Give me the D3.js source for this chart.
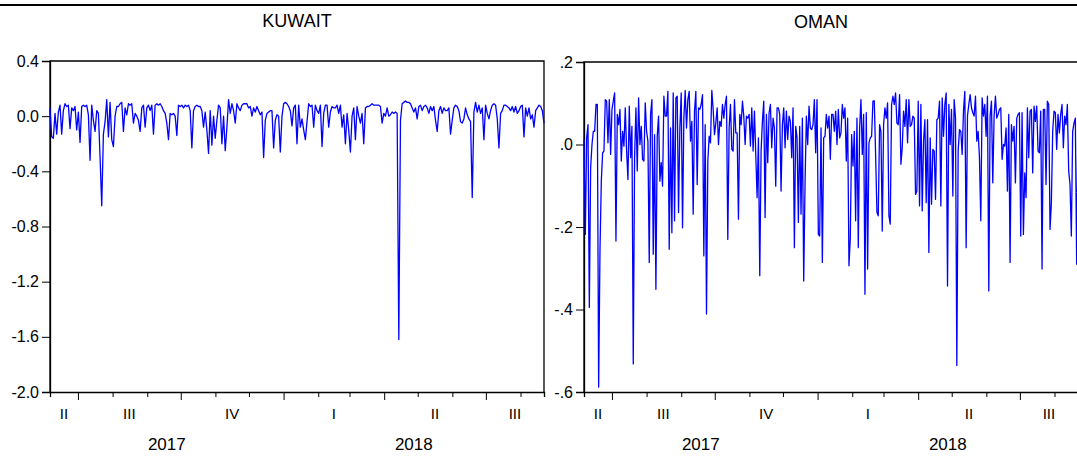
<!DOCTYPE html>
<html>
<head>
<meta charset="utf-8">
<script src="https://cdn.jsdelivr.net/npm/d3@7"></script>
<style>
  body { margin: 0; background: #fff; }
  svg { display: block; }
  text { font-family: "Liberation Sans", Arial, sans-serif; fill: #000; }
</style>
</head>
<body>
<svg id="chart"></svg>
<script>
// daily returns
const kuwait = [
  0.06,-0.15,-0.16,0.02,-0.13,0.03,0.08,-0.13,0.04,0.09,0.07,0.08,-0.09,0.06,0.04,0.07,-0.10,0.03,-0.19,0.07,
  0.08,0.07,0.08,0.01,-0.32,0.08,-0.03,-0.11,0.04,0.02,-0.30,-0.65,-0.13,-0.04,0.12,-0.15,0.10,-0.17,-0.22,0.00,
  0.07,0.07,0.09,0.10,-0.11,0.06,0.01,0.09,0.08,0.09,-0.05,0.02,0.00,-0.03,-0.11,0.06,0.08,-0.08,0.06,0.08,
  0.04,0.08,-0.13,0.08,0.09,0.08,0.09,0.07,0.04,0.02,-0.05,-0.17,0.02,0.01,0.02,0.00,-0.14,0.08,0.07,0.08,
  0.06,0.08,0.07,0.08,0.04,-0.23,0.04,0.07,0.08,0.07,0.07,0.04,-0.08,0.03,-0.10,-0.27,0.04,-0.21,0.00,-0.16,
  -0.03,0.08,0.06,-0.20,0.00,-0.25,-0.08,0.12,0.02,0.09,0.04,-0.05,0.09,0.06,0.04,0.08,0.09,0.09,0.09,0.06,
  0.07,0.00,0.06,0.03,0.07,0.04,0.01,0.03,-0.30,-0.03,0.02,0.03,0.04,0.04,-0.23,-0.03,0.01,0.00,-0.26,0.00,
  0.09,0.10,0.09,0.07,0.04,-0.07,
  0.06,0.08,-0.20,0.08,-0.08,-0.02,-0.10,-0.17,-0.04,0.09,0.07,0.08,-0.08,0.08,0.04,0.02,0.08,-0.22,0.02,
  0.08,0.08,-0.08,0.03,0.07,0.06,0.06,0.08,0.02,0.08,-0.08,0.01,-0.20,0.02,-0.10,-0.26,0.00,0.06,-0.17,0.07,
  0.00,-0.05,0.02,-0.20,0.06,0.07,0.07,0.08,0.09,0.08,0.08,0.08,0.08,0.07,-0.05,0.02,0.00,0.06,0.00,0.01,
  0.03,0.02,0.03,0.02,-1.62,-0.03,0.09,0.10,0.11,0.10,0.10,0.09,0.06,0.03,0.06,-0.02,0.07,0.08,0.04,0.07,
  0.08,0.06,0.02,0.07,0.04,0.07,-0.03,-0.11,0.04,0.07,0.02,0.06,0.04,0.04,0.06,-0.13,-0.03,0.06,0.08,0.07,
  0.04,-0.04,-0.05,-0.02,0.06,0.01,-0.02,-0.04,-0.59,0.03,0.10,0.03,0.08,0.02,0.06,-0.17,0.08,0.02,-0.02,0.04,
  0.08,0.09,0.08,-0.02,-0.23,0.02,0.04,0.08,0.08,0.07,0.06,0.04,0.07,0.03,0.07,0.02,0.04,0.07,0.08,-0.15,
  0.06,0.00,0.06,-0.02,0.01,-0.08,0.04,0.06,0.08,0.07,0.04,-0.05
];

const oman = [
  0.012,-0.218,0.016,0.048,-0.395,-0.056,0,0.032,0.032,0.097,0.097,-0.588,-0.258,-0.089,-0.020,-0.016,0.109,0.105,0.004,0.109,
  -0.024,0.085,0.105,0.125,-0.234,0.073,0.048,0.085,-0.040,0.032,-0.004,0.089,-0.016,-0.085,0.093,-0.032,0.044,-0.532,-0.032,0.089,
  -0.064,0.113,0,0.044,-0.036,-0.040,0.101,0.032,0.008,-0.286,0.073,0.109,-0.266,0.024,-0.351,0.020,0.069,-0.089,-0.044,-0.101,
  0.117,0.069,0.069,0.129,-0.254,0.040,-0.214,0.125,-0.185,0.113,0.117,-0.165,0.040,0.125,-0.202,0.064,0.131,0.040,0.109,0.129,
  0.008,0.056,-0.169,0.081,0.129,-0.097,0.089,0.085,0.097,0.121,-0.270,0.048,-0.411,-0.040,0.020,0.004,0.131,0.085,0.024,0.052,
  0.089,0,0.056,0.044,0.097,0.064,0.097,0.117,-0.230,0.040,0.097,-0.012,-0.016,0.109,0.028,0.028,-0.181,0.073,0.048,0.105,
  0.069,0,0.069,0.064,0.073,-0.004,0.089,-0.016,0.081,-0.024,-0.129,0.016,-0.318,-0.016,0.056,0.105,-0.177,0.073,-0.044,0.077,
  0.097,-0.008,0.064,0.040,-0.101,0.089,0.089,0.073,-0.113,0.048,0.089,-0.008,0.081,0.012,0.069,0.056,-0.032,0.089,-0.250,0.044,
  0.016,-0.189,0.044,-0.169,0.064,-0.331,-0.097,0.069,0,0.093,0.040,0.036,0.048,0.109,-0.020,0.109,-0.218,-0.222,0.040,-0.286,
  0.016,0.020,0.073,0.040,
  0.069,-0.036,0.073,0.073,0.032,0.081,0,0.085,0.016,0.028,0.097,0.064,0.089,-0.040,0.064,-0.294,-0.226,0.024,-0.052,0.032,
  -0.185,0.064,-0.250,0.040,0.109,-0.024,0.073,-0.363,0.077,-0.302,0.004,0.016,0.020,0.105,0.106,-0.024,-0.165,-0.173,0.048,0.032,
  -0.210,0.048,0.089,0.064,0.101,-0.173,-0.193,0.097,0.117,0.097,0.125,0.052,0.048,0.121,-0.048,-0.008,0.081,0.044,0.109,0.004,
  0.109,0.044,0.048,0.069,0.064,-0.121,-0.113,0.105,-0.149,0.097,-0.161,0.008,0.060,-0.141,0.060,-0.262,0.016,-0.145,-0.012,-0.016,
  -0.133,0.060,0.064,0.105,-0.149,0.113,0.020,0.097,0.125,-0.343,0.097,0,0.085,-0.125,0.109,0.064,-0.536,-0.016,0.036,0.032,
  -0.024,0.081,0.129,-0.250,0.069,0.097,0.121,0.089,0.077,0.069,0.117,0.008,0.032,-0.032,-0.185,0.113,0.069,0.097,0.020,0.117,
  -0.355,0.069,0.105,-0.093,0.069,0.117,0.064,0.073,0.085,0.089,-0.036,0,-0.004,0.040,-0.113,0.073,-0.286,0.048,0.008,0.044,
  -0.093,0.064,0.073,0.077,-0.222,0.077,-0.218,-0.069,-0.129,0.089,-0.032,0.081,0.085,-0.069,0.093,0.056,0.093,-0.016,-0.020,0.081,
  -0.302,0.085,0.085,-0.097,0.105,0.097,-0.206,-0.141,0.032,0.081,0.077,-0.012,0.073,0.028,0.073,0.097,-0.008,0.069,0.048,0.097,
  -0.064,-0.097,-0.222,0.032,0.052,0.064,-0.290,0.069
];

// axis ticks
const kuwaitTicks = [0.4, 0.0, -0.4, -0.8, -1.2, -1.6, -2.0];
const omanTicks = [0.2, 0.0, -0.2, -0.4, -0.6];
const quarterNames = ["I", "II", "III", "IV"];

// sample period
const startDate = new Date(2017, 5, 6);
const endDate = new Date(2018, 7, 22);

const width = 1077;
const height = 458;

const svg = d3.select("#chart").attr("width", width).attr("height", height);

// rule at the top of the page
svg.append("line")
  .attr("x1", 0).attr("x2", width)
  .attr("y1", 5).attr("y2", 5)
  .attr("stroke", "#000")
  .attr("stroke-width", 2);

function drawPanel(p) {
  const g = svg.append("g").attr("transform", `translate(${p.left},${p.top})`);
  const w = p.w, h = p.h;

  const y = d3.scaleLinear().domain(p.yDomain).range([h, 0]);
  const x = d3.scaleLinear().domain([0, p.values.length - 1]).range([0, w]);
  const xTime = d3.scaleTime().domain([startDate, endDate]).range([0, w]);

  // frame
  g.append("path")
    .attr("d", `M0,${h}V0H${w}V${h}`)
    .attr("fill", "none")
    .attr("stroke", "#000")
    .attr("stroke-width", 1.3);

  // y axis
  const yAxis = g.append("g")
    .call(d3.axisLeft(y).tickValues(p.yTicks).tickSize(8).tickPadding(3).tickFormat(p.yFormat));
  yAxis.select(".domain").attr("stroke-width", 1.3);
  yAxis.selectAll("text")
    .style("font-size", "16px")
    .style("font-family", '"Liberation Sans", Arial, sans-serif');

  // x axis with month ticks, quarter ticks longer
  const months = d3.timeMonth.range(d3.timeMonth.ceil(startDate), endDate);
  const xAxis = g.append("g")
    .attr("transform", `translate(0,${h})`)
    .call(d3.axisBottom(xTime).tickValues(months).tickSize(5).tickFormat(""));
  xAxis.select(".domain").attr("stroke-width", 1.3);
  xAxis.selectAll(".tick line")
    .attr("y2", (d) => (d.getMonth() % 3 === 0 ? 8 : 5));

  // quarter labels centred on the visible part of each quarter
  const quarters = d3.timeMonth.every(3).range(d3.timeMonth.every(3).floor(startDate), endDate);
  quarters.forEach((q) => {
    const qEnd = d3.timeMonth.offset(q, 3);
    const a = Math.max(+q, +startDate), b = Math.min(+qEnd, +endDate);
    g.append("text")
      .attr("x", xTime(new Date((a + b) / 2)))
      .attr("y", h + 27)
      .attr("text-anchor", "middle")
      .style("font-size", "15px")
      .text(quarterNames[Math.floor(q.getMonth() / 3)]);
  });

  // year labels
  const years = d3.timeYear.range(d3.timeYear.floor(startDate), endDate);
  years.forEach((yr) => {
    const a = Math.max(+yr, +startDate), b = Math.min(+d3.timeYear.offset(yr, 1), +endDate);
    g.append("text")
      .attr("x", xTime(new Date((a + b) / 2)))
      .attr("y", h + 58)
      .attr("text-anchor", "middle")
      .style("font-size", "17px")
      .text(yr.getFullYear());
  });

  // title
  g.append("text")
    .attr("x", p.titleX)
    .attr("y", p.titleY)
    .attr("text-anchor", "middle")
    .style("font-size", "18px")
    .text(p.title);

  // series
  const line = d3.line()
    .x((d, i) => x(i))
    .y((d) => y(d));
  g.append("path")
    .datum(p.values)
    .attr("d", line)
    .attr("fill", "none")
    .attr("stroke", "#0000ff")
    .attr("stroke-width", 1.3)
    .attr("stroke-linejoin", "round");
}

drawPanel({
  left: 50, top: 61, w: 494, h: 331,
  values: kuwait,
  yDomain: [-2.0, 0.4],
  yTicks: kuwaitTicks,
  yFormat: (d) => d.toFixed(1),
  title: "KUWAIT", titleX: 247, titleY: -34
});

drawPanel({
  left: 584, top: 62, w: 494, h: 330,
  values: oman,
  yDomain: [-0.6, 0.2],
  yTicks: omanTicks,
  yFormat: (d) => (d < -1e-9 ? "-" : "") + Math.abs(d).toFixed(1).replace(/^0/, ""),
  title: "OMAN", titleX: 237, titleY: -34
});
</script>
</body>
</html>
